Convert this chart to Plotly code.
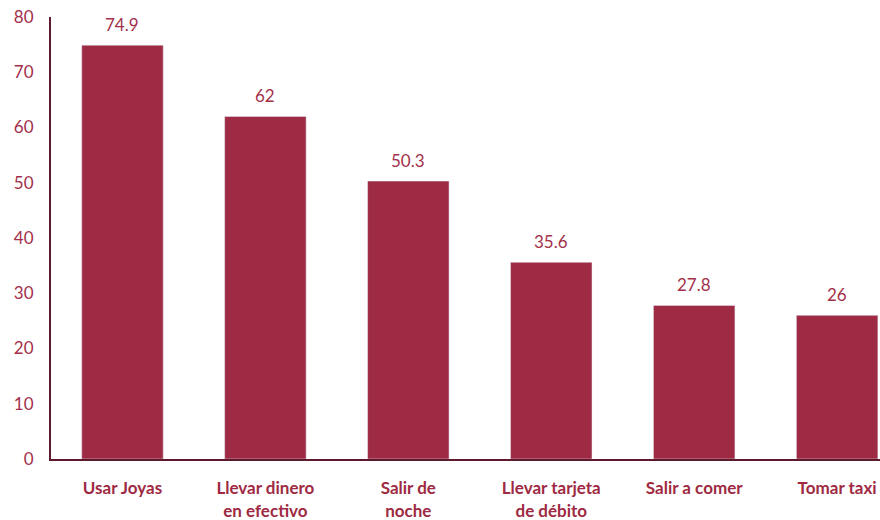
import plotly.graph_objects as go

categories = ['Usar Joyas', 'Llevar dinero<br>en efectivo', 'Salir de<br>noche',
              'Llevar tarjeta<br>de débito', 'Salir a comer', 'Tomar taxi']
values = [74.9, 62, 50.3, 35.6, 27.8, 26]
value_labels = ['74.9', '62', '50.3', '35.6', '27.8', '26']

bar_color = '#9E2A43'
text_color = '#A3304B'
axis_color = '#5E1A2C'

fig = go.Figure()

fig.add_trace(go.Bar(
    x=categories,
    y=values,
    marker_color=bar_color,
    width=0.57,
    showlegend=False,
    hoverinfo='x+y'
))

for cat, val, lab in zip(categories, values, value_labels):
    fig.add_annotation(
        x=cat, y=val, text=lab,
        showarrow=False, yanchor='bottom', yshift=8,
        font=dict(family='Lato', size=17, color=text_color)
    )

fig.update_layout(
    width=880,
    height=520,
    plot_bgcolor='white',
    paper_bgcolor='white',
    margin=dict(t=17, b=61, l=51, r=0),
    font=dict(family='Lato', color=text_color)
)

fig.update_xaxes(
    range=[-0.5, 5.3], automargin=False,
    showline=True, linecolor=axis_color, linewidth=2,
    ticks='outside', ticklen=13, tickcolor='rgba(0,0,0,0)',
    tickfont=dict(family='Lato', size=17, color=bar_color, weight='bold'),
    showgrid=False, tickangle=0
)

fig.update_yaxes(
    range=[0, 80], dtick=10, automargin=False,
    showline=True, linecolor=axis_color, linewidth=2,
    ticks='outside', ticklen=12, tickcolor='rgba(0,0,0,0)',
    tickfont=dict(family='Lato', size=17, color=text_color),
    ticklabeloverflow='allow',
    showgrid=False, zeroline=False
)

# drop the default 8px body margin so the figure fills the window
fig.write_html("out.html", config={'displayModeBar': False},
               post_script="document.body.style.margin='0';")
